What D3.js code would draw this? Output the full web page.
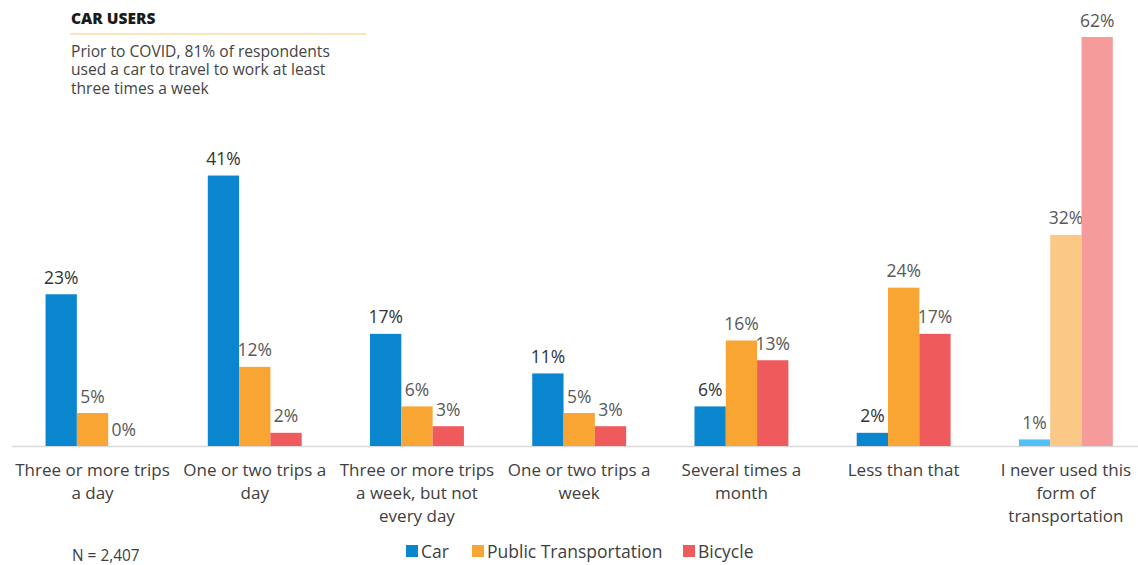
<!DOCTYPE html>
<html>
<head>
<meta charset="utf-8">
<script src="https://cdn.jsdelivr.net/npm/d3@7"></script>
<style>
  html, body { margin: 0; padding: 0; background: #fff; }
  svg { display: block; font-family: "Open Sans", "Noto Sans", sans-serif; }
</style>
</head>
<body>
<svg id="chart" width="1138" height="565"></svg>
<script>
// Trip frequency categories (x axis)
const categories = [
  ["Three or more trips", "a day"],
  ["One or two trips a", "day"],
  ["Three or more trips", "a week, but not", "every day"],
  ["One or two trips a", "week"],
  ["Several times a", "month"],
  ["Less than that"],
  ["I never used this", "form of", "transportation"]
];
const seriesNames = ["Car", "Public Transportation", "Bicycle"];
const carValues = [23, 41, 17, 11, 6, 2, 1];
const transitValues = [5, 12, 6, 5, 16, 24, 32];
const bicycleValues = [0, 2, 3, 3, 13, 17, 62];

const colors = ["#0a86cf", "#f8a533", "#ef5a5c"];
const lightColors = ["#4fc0f8", "#fbc885", "#f59b9c"];

const svg = d3.select("#chart");
const baseY = 446;
const catKeys = categories.map((c, i) => i);

const x0 = d3.scaleBand().domain(catKeys).range([11.4, 1147]).padding(0);
const barW = 31.3;
const x1 = d3.scaleBand().domain([0, 1, 2]).range([-barW * 1.5, barW * 1.5]).padding(0);
const y = d3.scaleLinear().domain([0, 62]).range([baseY, 37]);

const values = [carValues, transitValues, bicycleValues];

// Baseline
svg.append("line")
  .attr("x1", 12).attr("x2", 1138)
  .attr("y1", baseY + 0.5).attr("y2", baseY + 0.5)
  .attr("stroke", "#d9d9d9").attr("stroke-width", 1.5);

// Bars with value labels
catKeys.forEach(ci => {
  const cx = x0(ci) + x0.bandwidth() / 2;
  const g = svg.append("g").attr("transform", `translate(${cx},0)`);
  const isLast = ci === catKeys.length - 1;
  [0, 1, 2].forEach(si => {
    const v = values[si][ci];
    g.append("rect")
      .attr("x", x1(si))
      .attr("y", y(v))
      .attr("width", x1.bandwidth())
      .attr("height", baseY - y(v))
      .attr("fill", isLast ? lightColors[si] : colors[si]);
    g.append("text")
      .attr("x", x1(si) + x1.bandwidth() / 2)
      .attr("y", y(v) - 10.5)
      .attr("text-anchor", "middle")
      .attr("font-size", 17.5)
      .attr("fill", si === 0 && !isLast ? "#333" : "#595959")
      .text(v + "%");
  });
});

// Category labels
const xAxis = svg.append("g").attr("transform", `translate(0,${baseY})`);
catKeys.forEach(ci => {
  const cx = x0(ci) + x0.bandwidth() / 2;
  const t = xAxis.append("text")
    .attr("x", cx).attr("y", 29.5)
    .attr("text-anchor", "middle")
    .attr("font-size", 17)
    .attr("fill", "#404040");
  categories[ci].forEach((line, li) => {
    t.append("tspan").attr("x", cx).attr("dy", li === 0 ? 0 : 23).text(line);
  });
});

// Title block
svg.append("text")
  .attr("x", 71).attr("y", 23.5)
  .attr("font-size", 15.5).attr("font-weight", 800)
  .attr("fill", "#1a1a1a")
  .text("CAR USERS");
svg.append("line")
  .attr("x1", 70).attr("x2", 366).attr("y1", 34).attr("y2", 34)
  .attr("stroke", "#fddba5").attr("stroke-width", 1.5);
const sub = svg.append("text")
  .attr("x", 71).attr("y", 57)
  .attr("font-size", 15.6).attr("fill", "#444");
["Prior to COVID, 81% of respondents",
 "used a car to travel to work at least",
 "three times a week"].forEach((l, i) => {
  sub.append("tspan").attr("x", 71).attr("dy", i === 0 ? 0 : 18.3).text(l);
});

// Sample size note
svg.append("text")
  .attr("x", 72).attr("y", 560.5)
  .attr("font-size", 15.4).attr("fill", "#404040")
  .text("N = 2,407");

// Legend
const legendX = [406, 472, 683];
seriesNames.forEach((name, i) => {
  const lg = svg.append("g").attr("transform", `translate(${legendX[i]},545)`);
  lg.append("rect").attr("x", 0).attr("y", 0).attr("width", 12).attr("height", 12)
    .attr("fill", colors[i]);
  lg.append("text").attr("x", 15).attr("y", 12.5)
    .attr("font-size", 17.5).attr("fill", "#404040").text(name);
});
</script>
</body>
</html>
